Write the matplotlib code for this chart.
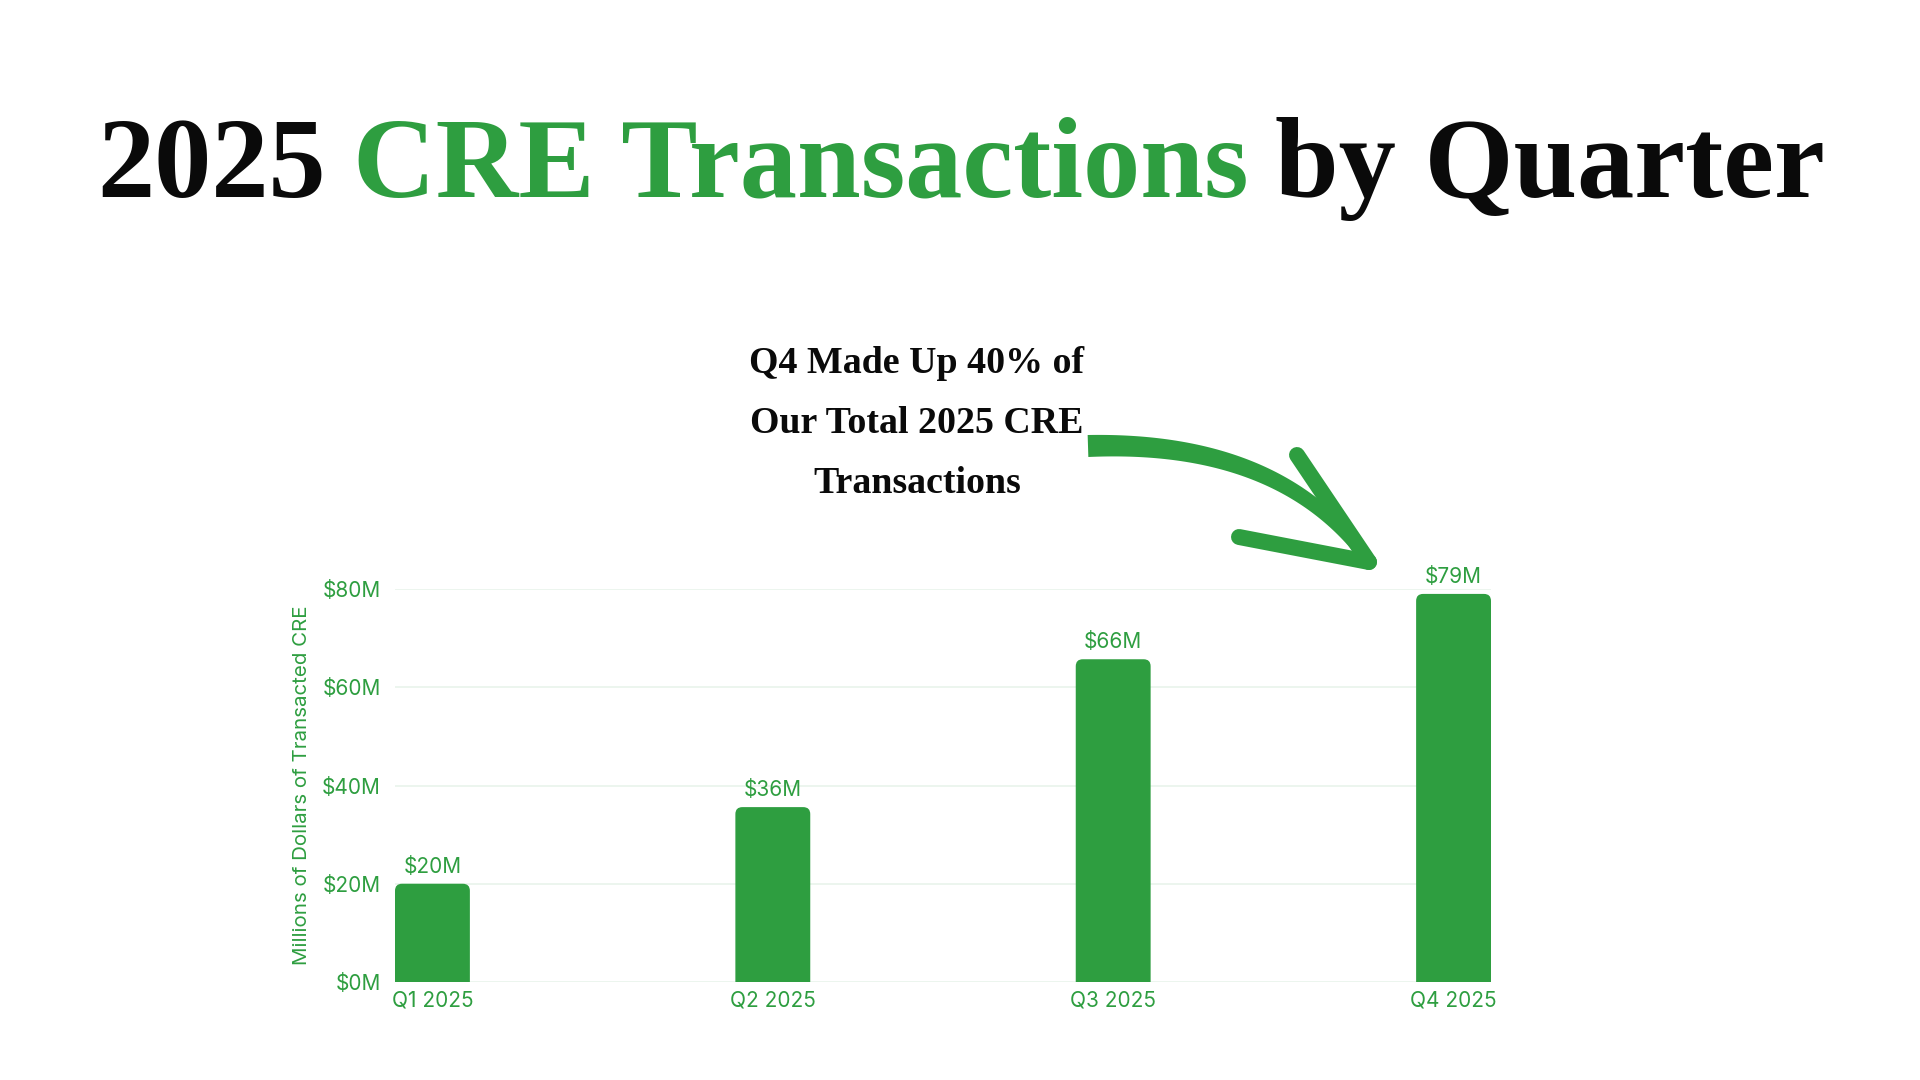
import matplotlib
matplotlib.use("Agg")
import matplotlib.pyplot as plt
import numpy as np
from matplotlib.patches import FancyBboxPatch

quarters = ["Q1 2025", "Q2 2025", "Q3 2025", "Q4 2025"]
values = [20, 35.6, 65.7, 79]
value_labels = ["$20M", "$36M", "$66M", "$79M"]
yticks = [0, 20, 40, 60, 80]
ytick_labels = ["$0M", "$20M", "$40M", "$60M", "$80M"]
ylabel = "Millions of Dollars of Transacted CRE"
note_lines = ["Q4 Made Up 40% of", "Our Total 2025 CRE", "Transactions"]

GREEN = "#2e9e40"
GRID = "#e9f3eb"
SERIF = ["Liberation Serif", "DejaVu Serif"]

plt.rcParams["font.family"] = ["Inter", "DejaVu Sans"]

fig = plt.figure(figsize=(19.2, 10.8), dpi=100)
fig.patch.set_facecolor("white")

# chart axes
ax = fig.add_axes([395 / 1920, 98 / 1080, 1096 / 1920, 393 / 1080])
bw = 0.22
x = np.arange(len(quarters))
bars = ax.bar(x, values, width=bw, color=GREEN, zorder=3)
ax.set_xlim(-bw / 2, len(quarters) - 1 + bw / 2)
ax.set_ylim(0, 80)

# rounded tops: replace each bar with a rounded box that dips below zero
fig.canvas.draw()
ppx = ax.transData.transform((1, 0))[0] - ax.transData.transform((0, 0))[0]
ppy = ax.transData.transform((0, 1))[1] - ax.transData.transform((0, 0))[1]
r = 7 / ppx
for b in bars:
    b.set_visible(False)
    p = FancyBboxPatch((b.get_x(), -5), b.get_width(), b.get_height() + 5,
                       boxstyle="round,pad=0,rounding_size=%f" % r,
                       mutation_aspect=ppx / ppy, fc=GREEN, ec="none", zorder=3)
    ax.add_patch(p)

for xi, v, lab in zip(x, values, value_labels):
    ax.annotate(lab, (xi, v), xytext=(0, 5), textcoords="offset points",
                ha="center", va="bottom", color=GREEN, fontsize=15, clip_on=False)

ax.set_yticks(yticks)
ax.set_yticklabels(ytick_labels)
ax.set_xticks(x)
ax.set_xticklabels(quarters)
ax.tick_params(axis="both", length=0, labelcolor=GREEN, labelsize=15)
ax.tick_params(axis="y", pad=10)
ax.tick_params(axis="x", pad=6)
ax.grid(axis="y", color=GRID, linewidth=1.2, zorder=0)
for s in ax.spines.values():
    s.set_visible(False)
ax.set_ylabel(ylabel, color=GREEN, fontsize=14.8, labelpad=8)

# overlay in pixel coords for the title, note and arrow
ov = fig.add_axes([0, 0, 1, 1], zorder=5)
ov.set_xlim(0, 1920)
ov.set_ylim(1080, 0)
ov.axis("off")
ov.patch.set_alpha(0)

renderer = fig.canvas.get_renderer()

# title in three colours
pieces = [("2025", "#0a0a0a"), ("CRE Transactions", GREEN), ("by Quarter", "#0a0a0a")]
gap = 27
target = 1727
size = 80
tt = [ov.text(0, 197, s, color=c, fontsize=size, family=SERIF, weight="bold",
              va="baseline", ha="left") for s, c in pieces]
w = sum(t.get_window_extent(renderer).width for t in tt)
size = size * (target - 2 * gap) / w
for t in tt:
    t.set_fontsize(size)
ws = [t.get_window_extent(renderer).width for t in tt]
cx = 961 - (sum(ws) + 2 * gap) / 2
for t, wi in zip(tt, ws):
    t.set_x(cx)
    cx += wi + gap

# note
nt = [ov.text(917, 373 + 60 * i, s, color="#0a0a0a", fontsize=27, family=SERIF,
              weight="bold", ha="center", va="baseline")
      for i, s in enumerate(note_lines)]
w2 = nt[1].get_window_extent(renderer).width
for t in nt:
    t.set_fontsize(27 * 333 / w2)

# hand drawn style arrow
p0 = np.array([1088, 446])
p1 = np.array([1280, 440])
p2 = np.array([1366, 558])
t = np.linspace(0, 1, 80)[:, None]
pts = (1 - t) ** 2 * p0 + 2 * t * (1 - t) * p1 + t ** 2 * p2
d = 2 * (1 - t) * (p1 - p0) + 2 * t * (p2 - p1)
nrm = np.column_stack([-d[:, 1], d[:, 0]]) / np.linalg.norm(d, axis=1)[:, None]
half = (11 - 5 * t[:, 0])[:, None]
poly = np.vstack([pts + nrm * half, (pts - nrm * half)[::-1]])
ov.fill(poly[:, 0], poly[:, 1], color=GREEN, lw=0)
ov.plot([1297, 1369], [455, 562], color=GREEN, lw=11.5, solid_capstyle="round")
ov.plot([1239, 1369], [537, 562], color=GREEN, lw=11.5, solid_capstyle="round")

fig.savefig("out.png", dpi=100, facecolor="white")
